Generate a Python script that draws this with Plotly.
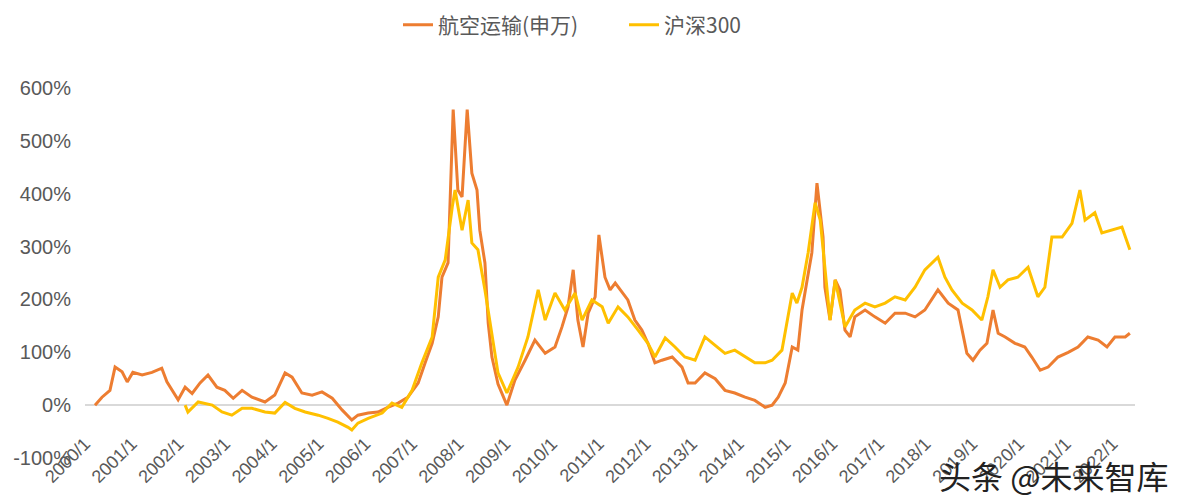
import plotly.graph_objects as go

# ---- data (time in decimal years, value in %) ----
air_t = [2000.00, 2000.15, 2000.32, 2000.43, 2000.58, 2000.69, 2000.81, 2001.01, 2001.22, 2001.43,
         2001.54, 2001.71, 2001.78, 2001.93, 2002.08, 2002.25, 2002.42, 2002.61, 2002.78, 2002.96,
         2003.15, 2003.36, 2003.64, 2003.85, 2004.07, 2004.22, 2004.43, 2004.65, 2004.86, 2005.08,
         2005.29, 2005.50, 2005.63, 2005.85, 2006.06, 2006.27, 2006.49, 2006.70, 2006.92, 2007.07,
         2007.22, 2007.35, 2007.43, 2007.56, 2007.67, 2007.77, 2007.86, 2007.97, 2008.07, 2008.18,
         2008.24, 2008.35, 2008.42, 2008.50, 2008.63, 2008.82, 2008.99, 2009.21, 2009.42, 2009.64,
         2009.85, 2010.00, 2010.13, 2010.24, 2010.34, 2010.45, 2010.56, 2010.71, 2010.79, 2010.92,
         2011.03, 2011.14, 2011.29, 2011.41, 2011.56, 2011.71, 2011.84, 2011.99, 2012.14, 2012.36,
         2012.57, 2012.70, 2012.85, 2013.06, 2013.28, 2013.49, 2013.70, 2013.92, 2014.13, 2014.35,
         2014.50, 2014.63, 2014.78, 2014.93, 2015.05, 2015.14, 2015.25, 2015.35, 2015.46, 2015.53,
         2015.59, 2015.63, 2015.74, 2015.85, 2015.95, 2016.06, 2016.17, 2016.27, 2016.49, 2016.70,
         2016.92, 2017.13, 2017.35, 2017.56, 2017.77, 2018.05, 2018.27, 2018.48, 2018.57, 2018.67,
         2018.80, 2018.95, 2019.10, 2019.23, 2019.34, 2019.49, 2019.70, 2019.91, 2020.06, 2020.24,
         2020.41, 2020.62, 2020.84, 2021.05, 2021.26, 2021.48, 2021.67, 2021.84, 2022.06, 2022.16]
air_v = [0, 15, 28, 72, 63, 44, 62, 57, 62, 70,
         44, 19, 10, 34, 22, 42, 57, 34, 28, 13,
         28, 15, 6, 19, 61, 53, 23, 19, 25, 13,
         -9, -28, -19, -15, -13, -4, 4, 15, 42, 80,
         117, 167, 242, 269, 559, 407, 394, 559, 439, 407,
         331, 269, 155, 91, 40, 0, 47, 85, 123, 98,
         110, 148, 186, 256, 161, 110, 174, 205, 322, 242,
         218, 231, 212, 199, 161, 142, 117, 80, 85, 91,
         72, 42, 42, 61, 50, 28, 23, 15, 9, -4,
         0, 15, 42, 110, 104, 180, 237, 288, 420, 369,
         318, 223, 161, 237, 218, 142, 129, 167, 180, 167,
         155, 174, 174, 167, 180, 218, 193, 180, 142, 98,
         85, 104, 117, 180, 136, 129, 117, 110, 91, 66,
         72, 91, 100, 110, 129, 123, 110, 129, 129, 136]

hs_t = [2001.93, 2001.99, 2002.21, 2002.51, 2002.72, 2002.93, 2003.15, 2003.36, 2003.64, 2003.85,
        2004.07, 2004.28, 2004.50, 2004.78, 2004.99, 2005.20, 2005.42, 2005.50, 2005.63, 2005.85,
        2006.15, 2006.36, 2006.57, 2006.79, 2007.00, 2007.22, 2007.35, 2007.50, 2007.65, 2007.71,
        2007.86, 2007.99, 2008.07, 2008.20, 2008.35, 2008.46, 2008.57, 2008.63, 2008.82, 2009.06,
        2009.27, 2009.49, 2009.64, 2009.85, 2010.06, 2010.28, 2010.43, 2010.64, 2010.86, 2010.99,
        2011.20, 2011.41, 2011.63, 2011.84, 2011.99, 2012.21, 2012.42, 2012.63, 2012.85, 2013.06,
        2013.28, 2013.49, 2013.70, 2013.92, 2014.13, 2014.35, 2014.50, 2014.71, 2014.93, 2015.03,
        2015.14, 2015.27, 2015.42, 2015.53, 2015.63, 2015.74, 2015.85, 2016.06, 2016.27, 2016.49,
        2016.70, 2016.92, 2017.13, 2017.35, 2017.56, 2017.77, 2018.05, 2018.20, 2018.35, 2018.57,
        2018.78, 2018.99, 2019.12, 2019.23, 2019.38, 2019.55, 2019.76, 2019.98, 2020.19, 2020.34,
        2020.49, 2020.71, 2020.92, 2021.09, 2021.20, 2021.41, 2021.56, 2021.78, 2021.99, 2022.16]
hs_v = [0, -13, 6, 0, -13, -19, -6, -6, -13, -15,
        5, -6, -13, -19, -25, -32, -42, -47, -34, -25,
        -15, 4, -4, 28, 80, 129, 242, 275, 375, 407,
        331, 388, 307, 294, 218, 155, 100, 61, 23, 72,
        129, 218, 161, 212, 180, 212, 161, 199, 186, 155,
        186, 167, 142, 117, 91, 127, 110, 91, 85, 129,
        113, 98, 104, 91, 80, 80, 85, 104, 212, 193,
        223, 288, 383, 350, 256, 161, 237, 148, 180, 193,
        186, 193, 205, 199, 223, 256, 280, 242, 218, 193,
        180, 161, 205, 256, 223, 237, 242, 261, 205, 223,
        318, 318, 344, 407, 350, 364, 326, 331, 337, 294]

tick_years = list(range(2000, 2023))
tick_text = [f"{y}/1" for y in tick_years]
y_ticks = [-100, 0, 100, 200, 300, 400, 500, 600]
y_text = [f"{v}%" for v in y_ticks]

name_air = "航空运输(申万)"
name_hs = "沪深300"

FONT = "Liberation Sans, Arial, Noto Sans CJK SC, sans-serif"
GREY = "#595959"

fig = go.Figure()
fig.add_trace(go.Scatter(x=air_t, y=air_v, mode="lines", name=name_air,
                         line=dict(color="#ED7D31", width=3)))
fig.add_trace(go.Scatter(x=hs_t, y=hs_v, mode="lines", name=name_hs,
                         line=dict(color="#FFC000", width=3)))

fig.update_layout(
    width=1180, height=502,
    margin=dict(l=85, r=45, t=88, b=44, autoexpand=False),
    paper_bgcolor="white", plot_bgcolor="white",
    font=dict(family=FONT, color=GREY),
    showlegend=True,
    legend=dict(orientation="h", xref="container", yref="container",
                x=398 / 1180, xanchor="left", y=1 - 25 / 502, yanchor="middle",
                entrywidth=181, entrywidthmode="pixels",
                font=dict(size=21, color=GREY, family="Noto Sans CJK SC, Liberation Sans, sans-serif"),
                bgcolor="rgba(0,0,0,0)"),
    xaxis=dict(range=[1999.786, 2022.27], tickvals=tick_years, ticktext=tick_text,
               tickangle=-45, showgrid=False, zeroline=False,
               showline=True, linecolor="#D9D9D9", linewidth=2,
               anchor="free", position=100 / 700, layer="below traces",
               tickfont=dict(size=18, color=GREY), ticks="",
               ticklabelstandoff=20, ticklabelshift=-10),
    yaxis=dict(range=[-100, 600], tickvals=y_ticks, ticktext=y_text,
               showgrid=False, zeroline=False, showline=False,
               tickfont=dict(size=20, color=GREY), ticks="", ticklabelstandoff=13),
)

fig.add_annotation(text="头条 @未来智库", xref="paper", yref="paper",
                   x=1.033, y=-0.046, xanchor="right", yanchor="middle", showarrow=False,
                   font=dict(size=32, color="#222222", family="Noto Sans CJK SC, sans-serif"))

fig.write_html("out.html")
